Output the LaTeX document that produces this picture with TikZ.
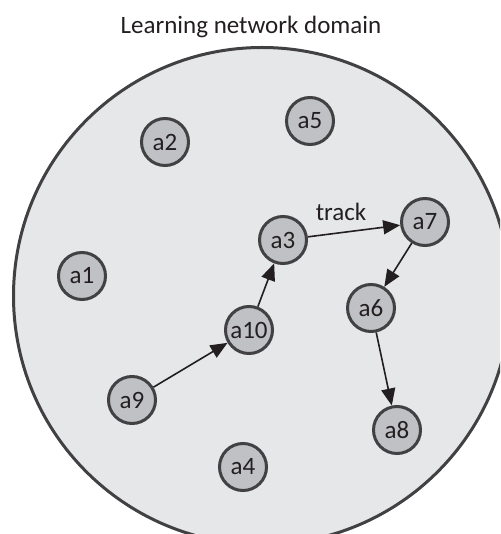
\documentclass[tikz,border=0pt]{standalone}
\usepackage{fontspec}
\setmainfont{Carlito}
\usetikzlibrary{arrows.meta}
\definecolor{domainfill}{HTML}{E6E7E8}
\definecolor{rim}{HTML}{414042}
\definecolor{agentfill}{HTML}{C0C1C4}
\definecolor{ink}{HTML}{231F20}
\begin{document}
\begin{tikzpicture}[x=1pt,y=-1pt,
  agent/.style={circle, draw=rim, line width=3pt, fill=agentfill,
    minimum size=47pt, inner sep=0pt, text=ink, font=\fontsize{25}{29}\selectfont},
  link/.style={draw=ink, line width=1.6pt, -{Triangle[length=17pt,width=14pt]}},
  caption/.style={text=ink, inner sep=0pt, font=\fontsize{25}{29}\selectfont}]
\useasboundingbox (0,0) rectangle (500,534);
% the domain disc, partly outside the page
\begin{scope}
  \clip (0,0) rectangle (500,534);
  \node[circle, draw=rim, line width=3pt, fill=domainfill,
        minimum size=497pt, inner sep=0pt] (domain) at (262,296) {};
\end{scope}
\node[caption] (title) at (251,27) {Learning network domain};
% agents
\node[agent] (a1)  at (82,276)  {a1};
\node[agent] (a2)  at (165,142) {a2};
\node[agent] (a3)  at (283,240) {a3};
\node[agent] (a4)  at (243,467) {a4};
\node[agent] (a5)  at (310,121) {a5};
\node[agent] (a6)  at (371,308) {a6};
\node[agent] (a7)  at (425,222) {a7};
\node[agent] (a8)  at (397,430) {a8};
\node[agent] (a9)  at (132,400) {a9};
\node[agent] (a10) at (249,330) {a10};
% tracked path
\draw[link] (a9) -- (a10);
\draw[link] (a10) -- (a3);
\draw[link] (a3) -- (a7);
\draw[link] (a7) -- (a6);
\draw[link] (a6) -- (a8);
\node[caption] (track) at (341,212) {track};
\end{tikzpicture}
\end{document}
